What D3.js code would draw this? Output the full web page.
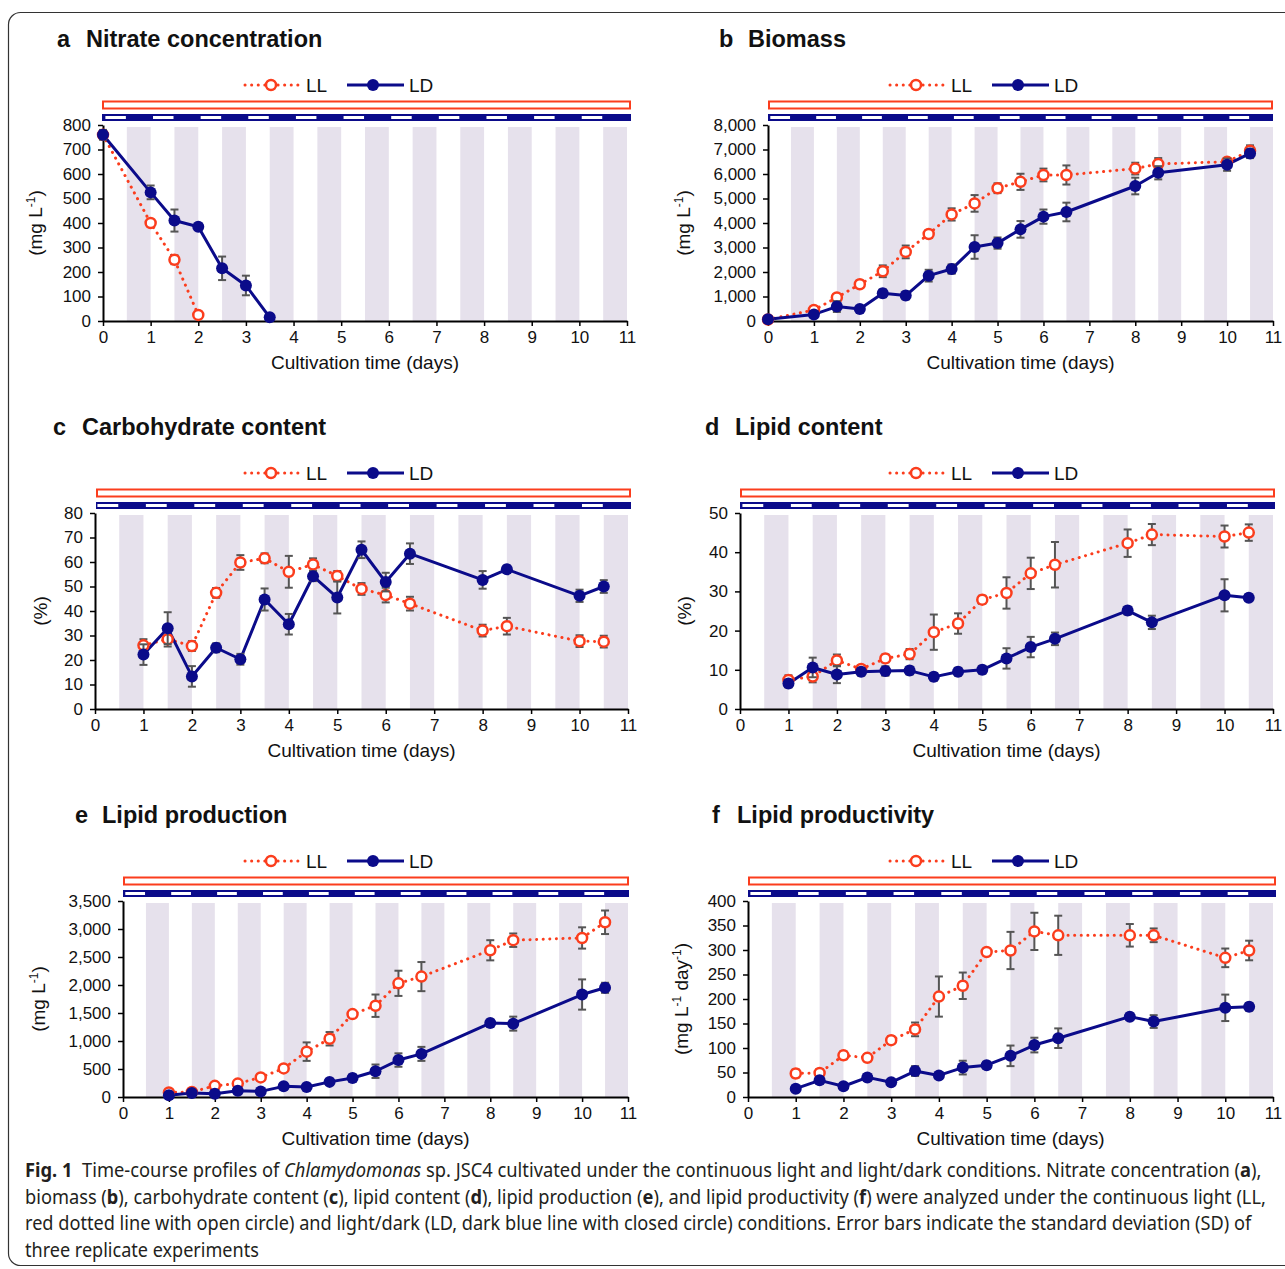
<!DOCTYPE html>
<html><head><meta charset="utf-8">
<script src="https://cdn.jsdelivr.net/npm/d3@7"></script>
<style>
body{margin:0;background:#fff}
svg text{font-family:"Liberation Sans",Arial,Helvetica,sans-serif}
</style>
</head><body>
<svg id="fig" width="1285" height="1269"></svg>
<script>
// ---------- DATA ----------
const dayTicks = [0,1,2,3,4,5,6,7,8,9,10,11];

// a  Nitrate concentration (mg L-1)
const nitrateDaysLL = [0, 1, 1.5, 2];
const nitrateLL     = [760, 400, 250, 25];
const nitrateLLsd   = [12, 12, 18, 10];
const nitrateDaysLD = [0, 1, 1.5, 2, 2.5, 3, 3.5];
const nitrateLD     = [760, 525, 410, 385, 215, 145, 15];
const nitrateLDsd   = [20, 28, 45, 12, 48, 40, 6];
const nitrateTicks  = [0,100,200,300,400,500,600,700,800];

// b  Biomass (mg L-1)
const biomassDays  = [0,1,1.5,2,2.5,3,3.5,4,4.5,5,5.5,6,6.5,8,8.5,10,10.5];
const biomassLL    = [60, 450, 960, 1500, 2030, 2820, 3550, 4350, 4800, 5420, 5680, 5960, 5960, 6220, 6410, 6500, 6950];
const biomassLLsd  = [30, 100, 120, 150, 240, 260, 150, 250, 340, 200, 330, 260, 390, 240, 240, 140, 220];
const biomassLD    = [70, 270, 590, 490, 1130, 1040, 1850, 2120, 3020, 3180, 3740, 4260, 4450, 5510, 6050, 6380, 6840];
const biomassLDsd  = [40, 80, 220, 100, 160, 160, 240, 190, 480, 230, 340, 290, 380, 340, 270, 250, 190];
const biomassTicks = [0,1000,2000,3000,4000,5000,6000,7000,8000];

// c-f share sampling days
const sampleDays = [1,1.5,2,2.5,3,3.5,4,4.5,5,5.5,6,6.5,8,8.5,10,10.5];

// c  Carbohydrate content (%)
const carbLL    = [26, 28.5, 25.7, 47.4, 59.8, 61.5, 56, 59, 54.3, 49, 46.5, 43, 32, 33.8, 27.7, 27.5];
const carbLLsd  = [2.5, 3, 2, 2, 3, 2, 6.5, 2.5, 2, 2.4, 3, 2.8, 2.4, 3.4, 2.4, 2.4];
const carbLD    = [22.2, 33, 13.3, 25, 20.3, 44.7, 34.6, 54.2, 45.5, 65, 51.8, 63.4, 52.7, 57, 46.2, 50];
const carbLDsd  = [4.2, 6.5, 4.2, 1.8, 2.2, 4.5, 4.2, 2, 6.5, 3.4, 3.8, 4.2, 3.6, 1.5, 2.5, 2.6];
const carbTicks = [0,10,20,30,40,50,60,70,80];

// d  Lipid content (%)
const lipidLL    = [7.4, 8.3, 12.4, 10.2, 12.9, 14, 19.6, 21.8, 27.9, 29.6, 34.6, 36.8, 42.3, 44.5, 44, 45];
const lipidLLsd  = [1.2, 1.5, 1.5, 1, 1, 1.3, 4.5, 2.6, 1, 4, 4, 5.8, 3.5, 2.7, 2.8, 2.1];
const lipidLD    = [6.5, 10.6, 8.8, 9.5, 9.7, 9.8, 8.2, 9.5, 10, 12.9, 15.8, 17.9, 25.1, 22.1, 29, 28.4];
const lipidLDsd  = [1, 2.5, 2.2, 1, 1.2, 1, 1, 1, 1, 2.6, 2.6, 1.6, 1, 1.7, 4.1, 0.8];
const lipidTicks = [0,10,20,30,40,50];

// e  Lipid production (mg L-1)
const prodLL    = [80, 90, 200, 240, 350, 510, 810, 1040, 1480, 1630, 2030, 2150, 2620, 2800, 2840, 3120];
const prodLLsd  = [30, 30, 40, 40, 50, 60, 165, 120, 50, 200, 225, 260, 180, 120, 190, 210];
const prodLD    = [30, 70, 60, 110, 100, 190, 180, 270, 340, 460, 660, 770, 1320, 1310, 1830, 1950];
const prodLDsd  = [20, 30, 30, 40, 30, 40, 40, 50, 60, 120, 120, 125, 60, 125, 270, 90];
const prodTicks = [0,500,1000,1500,2000,2500,3000,3500];

// f  Lipid productivity (mg L-1 day-1)
const prodvLL    = [48, 49, 85, 80, 116, 138, 205, 227, 296, 299, 338, 330, 330, 330, 284, 299];
const prodvLLsd  = [8, 8, 8, 7, 8, 14, 41, 27, 5, 38, 38, 40, 23, 14, 19, 20];
const prodvLD    = [17, 34, 22, 40, 30, 53, 44, 60, 65, 84, 106, 120, 164, 154, 182, 184];
const prodvLDsd  = [5, 7, 5, 7, 5, 10, 6, 14, 7, 21, 15, 20, 6, 13, 27, 8];
const prodvTicks = [0,50,100,150,200,250,300,350,400];

// ---------- STYLE / LAYOUT ----------
const RED = '#fb3d1d', NAVY = '#0b0b8a', STRIPE = '#e6e1ec', ERR = '#555555';
const svg = d3.select('#fig');

svg.append('rect').attr('x',8.5).attr('y',12.5).attr('width',1300).attr('height',1253)
  .attr('rx',12).attr('fill','none').attr('stroke','#333').attr('stroke-width',1.2);

const panels = [
  {letter:'a', name:'Nitrate concentration', x0:103, x11:627, yTop:125, yBot:321, barX0:102, barX1:631,
   ticks:nitrateTicks, fmt:d3.format('d'), letterX:57, nameX:86, legendX:244, ylabX:35, ylab:'mgL',
   LL:[nitrateDaysLL,nitrateLL,nitrateLLsd], LD:[nitrateDaysLD,nitrateLD,nitrateLDsd]},
  {letter:'b', name:'Biomass', x0:768, x11:1273, yTop:125, yBot:321, barX0:768, barX1:1273,
   ticks:biomassTicks, fmt:d3.format(','), letterX:719, nameX:748, legendX:889, ylabX:683, ylab:'mgL',
   LL:[biomassDays,biomassLL,biomassLLsd], LD:[biomassDays,biomassLD,biomassLDsd]},
  {letter:'c', name:'Carbohydrate content', x0:95, x11:628, yTop:513, yBot:709, barX0:96, barX1:631,
   ticks:carbTicks, fmt:d3.format('d'), letterX:53, nameX:82, legendX:244, ylabX:40, ylab:'pct',
   LL:[sampleDays,carbLL,carbLLsd], LD:[sampleDays,carbLD,carbLDsd]},
  {letter:'d', name:'Lipid content', x0:740, x11:1273, yTop:513, yBot:709, barX0:740, barX1:1275,
   ticks:lipidTicks, fmt:d3.format('d'), letterX:705, nameX:735, legendX:889, ylabX:684, ylab:'pct',
   LL:[sampleDays,lipidLL,lipidLLsd], LD:[sampleDays,lipidLD,lipidLDsd]},
  {letter:'e', name:'Lipid production', x0:123, x11:628, yTop:901, yBot:1097, barX0:123, barX1:629,
   ticks:prodTicks, fmt:d3.format(','), letterX:75, nameX:102, legendX:244, ylabX:38, ylab:'mgL',
   LL:[sampleDays,prodLL,prodLLsd], LD:[sampleDays,prodLD,prodLDsd]},
  {letter:'f', name:'Lipid productivity', x0:748, x11:1273, yTop:901, yBot:1097, barX0:748, barX1:1276,
   ticks:prodvTicks, fmt:d3.format('d'), letterX:712, nameX:737, legendX:889, ylabX:681, ylab:'mgLd',
   LL:[sampleDays,prodvLL,prodvLLsd], LD:[sampleDays,prodvLD,prodvLDsd]}
];

function drawPanel(p){
  const g = svg.append('g');
  const x = d3.scaleLinear().domain([0,11]).range([p.x0,p.x11]);
  const y = d3.scaleLinear().domain([0,p.ticks[p.ticks.length-1]]).range([p.yBot,p.yTop]);

  // title
  g.append('text').attr('x',p.letterX).attr('y',p.yTop-78).attr('font-size',23.5).attr('font-weight','bold')
    .attr('fill','#111').text(p.letter);
  g.append('text').attr('x',p.nameX).attr('y',p.yTop-78).attr('font-size',23.5).attr('font-weight','bold')
    .attr('fill','#111').text(p.name);

  // legend
  const lx = p.legendX, ly = p.yTop-40;
  g.append('line').attr('x1',lx+1).attr('x2',lx+54).attr('y1',ly).attr('y2',ly)
    .attr('stroke',RED).attr('stroke-width',3).attr('stroke-dasharray','0.1 6.5').attr('stroke-linecap','round');
  g.append('circle').attr('cx',lx+27).attr('cy',ly).attr('r',5).attr('fill','#fff')
    .attr('stroke',RED).attr('stroke-width',2.5);
  g.append('text').attr('x',lx+62).attr('y',ly+6.5).attr('font-size',19).attr('fill','#111').text('LL');
  g.append('line').attr('x1',lx+103).attr('x2',lx+160).attr('y1',ly).attr('y2',ly)
    .attr('stroke',NAVY).attr('stroke-width',3);
  g.append('circle').attr('cx',lx+129).attr('cy',ly).attr('r',6).attr('fill',NAVY);
  g.append('text').attr('x',lx+165).attr('y',ly+6.5).attr('font-size',19).attr('fill','#111').text('LD');

  // light/dark bars
  g.append('rect').attr('x',p.barX0+1).attr('y',p.yTop-23.5).attr('width',p.barX1-p.barX0-2).attr('height',7)
    .attr('fill','#fff').attr('stroke',RED).attr('stroke-width',2);
  g.append('rect').attr('x',p.barX0).attr('y',p.yTop-11).attr('width',p.barX1-p.barX0).attr('height',7)
    .attr('fill',NAVY);
  g.selectAll('rect.lightdash').data(d3.range(0,11)).enter().append('rect').attr('class','lightdash')
    .attr('x',k=>x(k+0.05)).attr('width',k=>x(k+0.48)-x(k+0.05))
    .attr('y',p.yTop-9).attr('height',3).attr('fill','#fff');

  // dark-period stripes
  g.selectAll('rect.stripe').data(d3.range(0,11)).enter().append('rect').attr('class','stripe')
    .attr('x',k=>x(k+0.5)).attr('width',k=>x(k+1)-x(k+0.5))
    .attr('y',p.yTop+2).attr('height',p.yBot-p.yTop-2).attr('fill',STRIPE);

  // axes
  const ya = g.append('g').attr('transform',`translate(${p.x0},0)`)
    .call(d3.axisLeft(y).tickValues(p.ticks).tickFormat(p.fmt).tickSize(5).tickSizeOuter(0).tickPadding(7));
  const xa = g.append('g').attr('transform',`translate(0,${p.yBot})`)
    .call(d3.axisBottom(x).tickValues(dayTicks).tickFormat(d3.format('d')).tickSize(5).tickSizeOuter(0).tickPadding(5));
  [ya,xa].forEach(a=>{
    a.select('.domain').attr('stroke','#000').attr('stroke-width',2);
    a.selectAll('.tick line').attr('stroke','#000').attr('stroke-width',1.5);
    a.selectAll('.tick text').attr('font-size',17).attr('fill','#111')
      .attr('font-family','"Liberation Sans",Arial,sans-serif');
  });

  // axis titles
  g.append('text').attr('x',(p.x0+p.x11)/2).attr('y',p.yBot+48).attr('text-anchor','middle')
    .attr('font-size',19).attr('fill','#111').text('Cultivation time (days)');
  const yl = g.append('text').attr('transform',`translate(${p.ylabX},${(p.yTop+p.yBot)/2}) rotate(-90)`)
    .attr('text-anchor','middle').attr('dy','0.35em').attr('font-size',19).attr('fill','#111');
  if (p.ylab==='pct'){ yl.text('(%)'); }
  else {
    yl.append('tspan').text('(mg L');
    yl.append('tspan').attr('font-size',12).attr('baseline-shift','super').text('-1');
    if (p.ylab==='mgLd'){
      yl.append('tspan').text(' day');
      yl.append('tspan').attr('font-size',12).attr('baseline-shift','super').text('-1');
    }
    yl.append('tspan').text(')');
  }

  // series
  const mk = arr => arr[0].map((d,i)=>({d, v:arr[1][i], s:arr[2][i]}));
  const ll = mk(p.LL), ld = mk(p.LD);
  const line = d3.line().x(q=>x(q.d)).y(q=>y(q.v));
  g.append('path').datum(ll).attr('d',line).attr('fill','none').attr('stroke',RED).attr('stroke-width',3)
    .attr('stroke-dasharray','0.1 6.5').attr('stroke-linecap','round');
  g.append('path').datum(ld).attr('d',line).attr('fill','none').attr('stroke',NAVY).attr('stroke-width',3)
    .attr('stroke-linejoin','round');

  function errbars(pts){
    const eb = g.append('g').attr('stroke',ERR).attr('stroke-width',2);
    pts.forEach(q=>{
      const lo = y(Math.max(0,q.v-q.s)), hi = y(q.v+q.s), cx = x(q.d);
      eb.append('line').attr('x1',cx).attr('x2',cx).attr('y1',lo).attr('y2',hi);
      eb.append('line').attr('x1',cx-4).attr('x2',cx+4).attr('y1',lo).attr('y2',lo);
      eb.append('line').attr('x1',cx-4).attr('x2',cx+4).attr('y1',hi).attr('y2',hi);
    });
  }
  errbars(ll);
  g.append('g').selectAll('circle').data(ll).enter().append('circle')
    .attr('cx',q=>x(q.d)).attr('cy',q=>y(q.v)).attr('r',5).attr('fill','#fff')
    .attr('stroke',RED).attr('stroke-width',2.5);
  errbars(ld);
  g.append('g').selectAll('circle').data(ld).enter().append('circle')
    .attr('cx',q=>x(q.d)).attr('cy',q=>y(q.v)).attr('r',6).attr('fill',NAVY);
}
panels.forEach(drawPanel);

// ---------- CAPTION ----------
const caption = [
  {len:1237, parts:[['Fig. 1','b'],['\u00a0 Time-course profiles of ',''],['Chlamydomonas','i'],[' sp. JSC4 cultivated under the continuous light and light/dark conditions. Nitrate concentration (',''],['a','b'],['),','']]},
  {len:1242, parts:[['biomass (',''],['b','b'],['), carbohydrate content (',''],['c','b'],['), lipid content (',''],['d','b'],['), lipid production (',''],['e','b'],['), and lipid productivity (',''],['f','b'],[') were analyzed under the continuous light (LL,','']]},
  {len:1227, parts:[['red dotted line with open circle) and light/dark (LD, dark blue line with closed circle) conditions. Error bars indicate the standard deviation (SD) of','']]},
  {len:234, parts:[['three replicate experiments','']]}
];
caption.forEach((ln,i)=>{
  const t = svg.append('text').attr('x',0).attr('y',0).attr('font-size',19.5)
    .attr('fill','#231f20').style('font-family','"Noto Sans","Open Sans",sans-serif');
  ln.parts.forEach(([s,st])=>{
    const ts = t.append('tspan').text(s);
    if (st==='b') ts.attr('font-weight','bold');
    if (st==='i') ts.attr('font-style','italic');
  });
  const w = t.node().getComputedTextLength();
  t.attr('transform',`translate(25,${1177+i*26.7}) scale(${ln.len/w},1)`);
});
</script>
</body></html>
